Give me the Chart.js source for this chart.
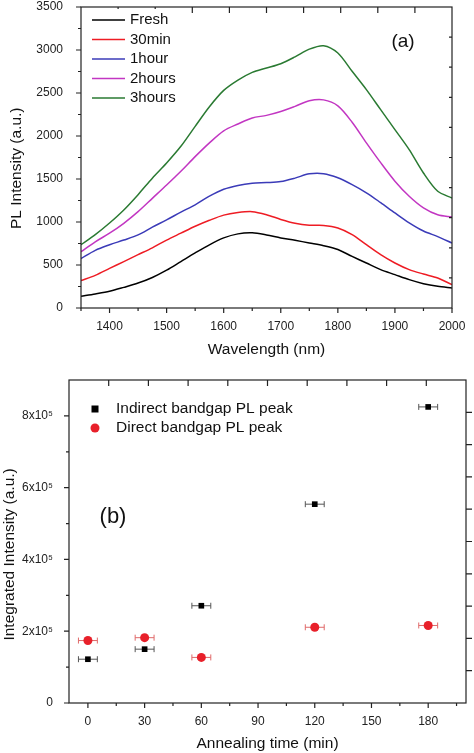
<!DOCTYPE html>
<html>
<head>
<meta charset="utf-8">
<script src="https://cdn.jsdelivr.net/npm/chart.js@4.4.0/dist/chart.umd.min.js"></script>
<style>
  html, body { margin: 0; padding: 0; background: #fff; }
  #wrap { position: relative; width: 474px; height: 753px; overflow: hidden; }
  canvas { position: absolute; left: 0; }
</style>
</head>
<body>
<div id="wrap">
  <canvas id="plA" width="474" height="360" style="top:0"></canvas>
  <canvas id="plB" width="474" height="393" style="top:360px"></canvas>
</div>
<script>
// ====================== PANEL (a) DATA ======================
const wavelengths = [1350,1375,1400,1425,1450,1475,1500,1525,1550,1575,1600,1625,1650,1675,1700,1725,1750,1775,1800,1825,1850,1875,1900,1925,1950,1975,2000];
const fresh   = [136,163,194,240,290,355,440,540,640,735,815,862,874,850,815,787,756,725,680,600,523,446,388,330,283,252,232];
const min30   = [318,380,460,540,620,700,790,870,950,1020,1080,1110,1120,1085,1030,985,962,960,930,853,736,620,523,446,395,349,271];
const hour1   = [575,670,735,790,850,940,1025,1115,1200,1300,1380,1425,1450,1458,1470,1510,1560,1562,1515,1435,1340,1225,1105,990,895,830,756];
const hours2  = [655,770,870,985,1120,1275,1430,1590,1760,1920,2060,2140,2210,2240,2285,2345,2410,2420,2350,2160,1920,1690,1475,1300,1165,1085,1058];
const hours3  = [736,853,988,1140,1318,1510,1686,1880,2112,2340,2530,2650,2740,2790,2840,2920,3010,3050,2965,2752,2539,2306,2074,1841,1570,1357,1279];
const specLabels = ["Fresh", "30min", "1hour", "2hours", "3hours"];
const specColors = ["#000000", "#ee1c24", "#3b3bb8", "#c236c2", "#2a7a32"];

const aXMajor = [1400,1500,1600,1700,1800,1900,2000];
const aXMinor = [1350,1450,1550,1650,1750,1850,1950];
const aYMajor = [0,500,1000,1500,2000,2500,3000,3500];
const aYMinor = [250,750,1250,1750,2250,2750,3250];

// ====================== PANEL (b) DATA ======================
const annealTime   = [0, 30, 60, 120, 180];
const indirectPeak = [1.22e5, 1.50e5, 2.71e5, 5.54e5, 8.25e5];
const directPeak   = [1.74e5, 1.82e5, 1.27e5, 2.11e5, 2.16e5];
const timeErr      = [5, 5, 5, 5, 5];

const bXMajor = [0, 30, 60, 90, 120, 150, 180];
const bXMinor = [15, 45, 75, 105, 135, 165, 195];
const bYMajor = [0, 2e5, 4e5, 6e5, 8e5];
const bYMinor = [1e5, 3e5, 5e5, 7e5];
const bYLabels = ["0", "2x10\u2075", "4x10\u2075", "6x10\u2075", "8x10\u2075"];

// secondary (unlabelled) top / right tick rows
const sideTicks = [1,2,3,4,5,6,7,8,9];

const FONT = '"Liberation Sans", Arial, sans-serif';
const AXIS = "#222";
const NB = "\u00a0";

// ====================== PLUGINS ======================
function frameTicks(cfg) {
  return {
    id: "frameTicks",
    afterDatasetsDraw(chart) {
      const ctx = chart.ctx, a = chart.chartArea;
      const sx = chart.scales.x, sy = chart.scales.y;
      const sx2 = chart.scales.x2, sy2 = chart.scales.y2;
      ctx.save();
      ctx.strokeStyle = AXIS;
      ctx.lineWidth = 1.2;
      ctx.strokeRect(a.left, a.top, a.right - a.left, a.bottom - a.top);
      ctx.beginPath();
      // bottom, outward
      cfg.xMajor.forEach(v => { const p = sx.getPixelForValue(v); ctx.moveTo(p, a.bottom); ctx.lineTo(p, a.bottom + 5); });
      cfg.xMinor.forEach(v => { const p = sx.getPixelForValue(v); ctx.moveTo(p, a.bottom); ctx.lineTo(p, a.bottom + 3); });
      // left, outward
      cfg.yMajor.forEach(v => { const p = sy.getPixelForValue(v); ctx.moveTo(a.left, p); ctx.lineTo(a.left - 5, p); });
      cfg.yMinor.forEach(v => { const p = sy.getPixelForValue(v); ctx.moveTo(a.left, p); ctx.lineTo(a.left - 3, p); });
      // top, inward
      sideTicks.forEach(v => { const p = sx2.getPixelForValue(v); ctx.moveTo(p, a.top); ctx.lineTo(p, a.top + 6); });
      // right
      sideTicks.forEach(v => {
        const p = sy2.getPixelForValue(v);
        ctx.moveTo(a.right, p);
        ctx.lineTo(cfg.rightOut ? a.right + 6 : a.right - 3, p);
      });
      ctx.stroke();
      ctx.restore();
    }
  };
}

const errorBars = {
  id: "errorBars",
  beforeDatasetsDraw(chart) {
    const ctx = chart.ctx, sx = chart.scales.x, sy = chart.scales.y;
    ctx.save();
    chart.data.datasets.forEach(ds => {
      if (!ds.errX) return;
      ctx.strokeStyle = ds.errColor;
      ctx.lineWidth = 1;
      ds.data.forEach((pt, i) => {
        const x0 = sx.getPixelForValue(pt.x - ds.errX[i]);
        const x1 = sx.getPixelForValue(pt.x + ds.errX[i]);
        const y = sy.getPixelForValue(pt.y);
        ctx.beginPath();
        ctx.moveTo(x0, y); ctx.lineTo(x1, y);
        ctx.moveTo(x0, y - 3); ctx.lineTo(x0, y + 3);
        ctx.moveTo(x1, y - 3); ctx.lineTo(x1, y + 3);
        ctx.stroke();
      });
    });
    ctx.restore();
  }
};

const legendA = {
  id: "legendA",
  afterDraw(chart) {
    const ctx = chart.ctx;
    ctx.save();
    // legend box is opaque in the original, hiding the top ticks behind it
    ctx.fillStyle = "#fff";
    ctx.fillRect(86, 9, 95, 99);
    ctx.font = "15px " + FONT;
    ctx.textBaseline = "middle";
    chart.data.datasets.forEach((ds, i) => {
      const y = 20 + i * 19.5;
      ctx.strokeStyle = ds.borderColor;
      ctx.lineWidth = 1.6;
      ctx.beginPath(); ctx.moveTo(92, y); ctx.lineTo(125, y); ctx.stroke();
      ctx.fillStyle = "#111";
      ctx.fillText(ds.label, 130, y);
    });
    ctx.font = "19px " + FONT;
    ctx.textAlign = "center";
    ctx.fillText("(a)", 403, 42);
    ctx.restore();
  }
};

const legendB = {
  id: "legendB",
  afterDraw(chart) {
    const ctx = chart.ctx;
    ctx.save();
    ctx.font = "15.5px " + FONT;
    ctx.textBaseline = "middle";
    const ds = chart.data.datasets;
    ctx.fillStyle = ds[0].backgroundColor;
    ctx.fillRect(91.5, 45.5, 7, 7);
    ctx.fillStyle = ds[1].backgroundColor;
    ctx.beginPath(); ctx.arc(95, 68, 4.5, 0, Math.PI * 2); ctx.fill();
    ctx.fillStyle = "#111";
    ctx.fillText(ds[0].label, 116, 49);
    ctx.fillText(ds[1].label, 116, 68);
    ctx.font = "22px " + FONT;
    ctx.textAlign = "center";
    ctx.fillText("(b)", 113, 157);
    ctx.restore();
  }
};

function sideScale(pos) {
  return {
    type: "linear", position: pos, min: 0, max: 10,
    grid: { display: false }, border: { display: false },
    ticks: { display: false },
    afterFit: s => { if (pos === "top") s.height = 0; else s.width = 0; }
  };
}

// fixed box sizes; drop the label overflow margins so the plot frame sits where we put it
function fixWidth(w) {
  return s => { s.width = w; s.paddingTop = 0; s.paddingBottom = 0; };
}
function fixHeight(h) {
  return s => { s.height = h; s.paddingLeft = 0; s.paddingRight = 0; };
}

// ====================== CHART (a) ======================
new Chart(document.getElementById("plA").getContext("2d"), {
  type: "line",
  data: {
    datasets: [fresh, min30, hour1, hours2, hours3].map((vals, k) => ({
      label: specLabels[k],
      data: wavelengths.map((w, i) => ({ x: w, y: vals[i] })),
      borderColor: specColors[k],
      borderWidth: 1.5,
      pointRadius: 0,
      tension: 0.3,
      fill: false
    }))
  },
  options: {
    responsive: false,
    animation: false,
    layout: { padding: { top: 7, right: 22, bottom: 0, left: 0 } },
    plugins: { legend: { display: false }, tooltip: { enabled: false } },
    scales: {
      x: {
        type: "linear", min: 1350, max: 2000,
        grid: { display: false }, border: { display: false },
        afterBuildTicks: s => { s.ticks = aXMajor.map(v => ({ value: v })); },
        afterFit: fixHeight(52),
        ticks: { autoSkip: false, maxRotation: 0, padding: 3, color: AXIS, font: { family: FONT, size: 12 },
                 callback: v => String(v) },
        title: { display: true, text: "Wavelength (nm)", color: "#111", padding: { top: 0, bottom: 1 }, font: { family: FONT, size: 15.5 } }
      },
      y: {
        type: "linear", min: 0, max: 3500,
        grid: { display: false }, border: { display: false },
        afterBuildTicks: s => { s.ticks = aYMajor.map(v => ({ value: v })); },
        afterFit: fixWidth(81),
        ticks: { autoSkip: false, padding: 10, color: AXIS, font: { family: FONT, size: 12 },
                 callback: v => String(v) },
        title: { display: true, text: "PL Intensity (a.u.)" + NB.repeat(5), color: "#111", padding: { top: 7, bottom: 0 }, font: { family: FONT, size: 15.5 } }
      },
      x2: sideScale("top"),
      y2: sideScale("right")
    }
  },
  plugins: [frameTicks({ xMajor: aXMajor, xMinor: aXMinor, yMajor: aYMajor, yMinor: aYMinor, rightOut: false }), legendA]
});

// ====================== CHART (b) ======================
new Chart(document.getElementById("plB").getContext("2d"), {
  type: "scatter",
  data: {
    datasets: [
      {
        label: "Indirect bandgap PL peak",
        data: annealTime.map((t, i) => ({ x: t, y: indirectPeak[i] })),
        pointStyle: "rect", pointRadius: 4, borderWidth: 0,
        backgroundColor: "#000", borderColor: "#000",
        errX: timeErr, errColor: "#555"
      },
      {
        label: "Direct bandgap PL peak",
        data: annealTime.map((t, i) => ({ x: t, y: directPeak[i] })),
        pointStyle: "circle", pointRadius: 4.5, borderWidth: 0,
        backgroundColor: "#e8202a", borderColor: "#e8202a",
        errX: timeErr, errColor: "#e06a6a"
      }
    ]
  },
  options: {
    responsive: false,
    animation: false,
    layout: { padding: { top: 20, right: 8, bottom: 0, left: 0 } },
    plugins: { legend: { display: false }, tooltip: { enabled: false } },
    scales: {
      x: {
        type: "linear", min: -10, max: 200,
        grid: { display: false }, border: { display: false },
        afterBuildTicks: s => { s.ticks = bXMajor.map(v => ({ value: v })); },
        afterFit: fixHeight(50),
        ticks: { autoSkip: false, maxRotation: 0, padding: 3, color: AXIS, font: { family: FONT, size: 12 },
                 callback: v => String(v) },
        title: { display: true, text: "Annealing time (min)", color: "#111", padding: { top: 0, bottom: 0 }, font: { family: FONT, size: 15.5 } }
      },
      y: {
        type: "linear", min: 0, max: 9e5,
        grid: { display: false }, border: { display: false },
        afterBuildTicks: s => { s.ticks = bYMajor.map(v => ({ value: v })); },
        afterFit: fixWidth(69),
        ticks: { autoSkip: false, padding: 8, color: AXIS, font: { family: FONT, size: 12 },
                 callback: (v, i) => bYLabels[i] },
        title: { display: true, text: "Integrated Intensity (a.u.)" + NB.repeat(6), color: "#111", padding: { top: 0, bottom: 0 }, font: { family: FONT, size: 15.5 } }
      },
      x2: sideScale("top"),
      y2: sideScale("right")
    }
  },
  plugins: [errorBars, frameTicks({ xMajor: bXMajor, xMinor: bXMinor, yMajor: bYMajor, yMinor: bYMinor, rightOut: true }), legendB]
});
</script>
</body>
</html>
